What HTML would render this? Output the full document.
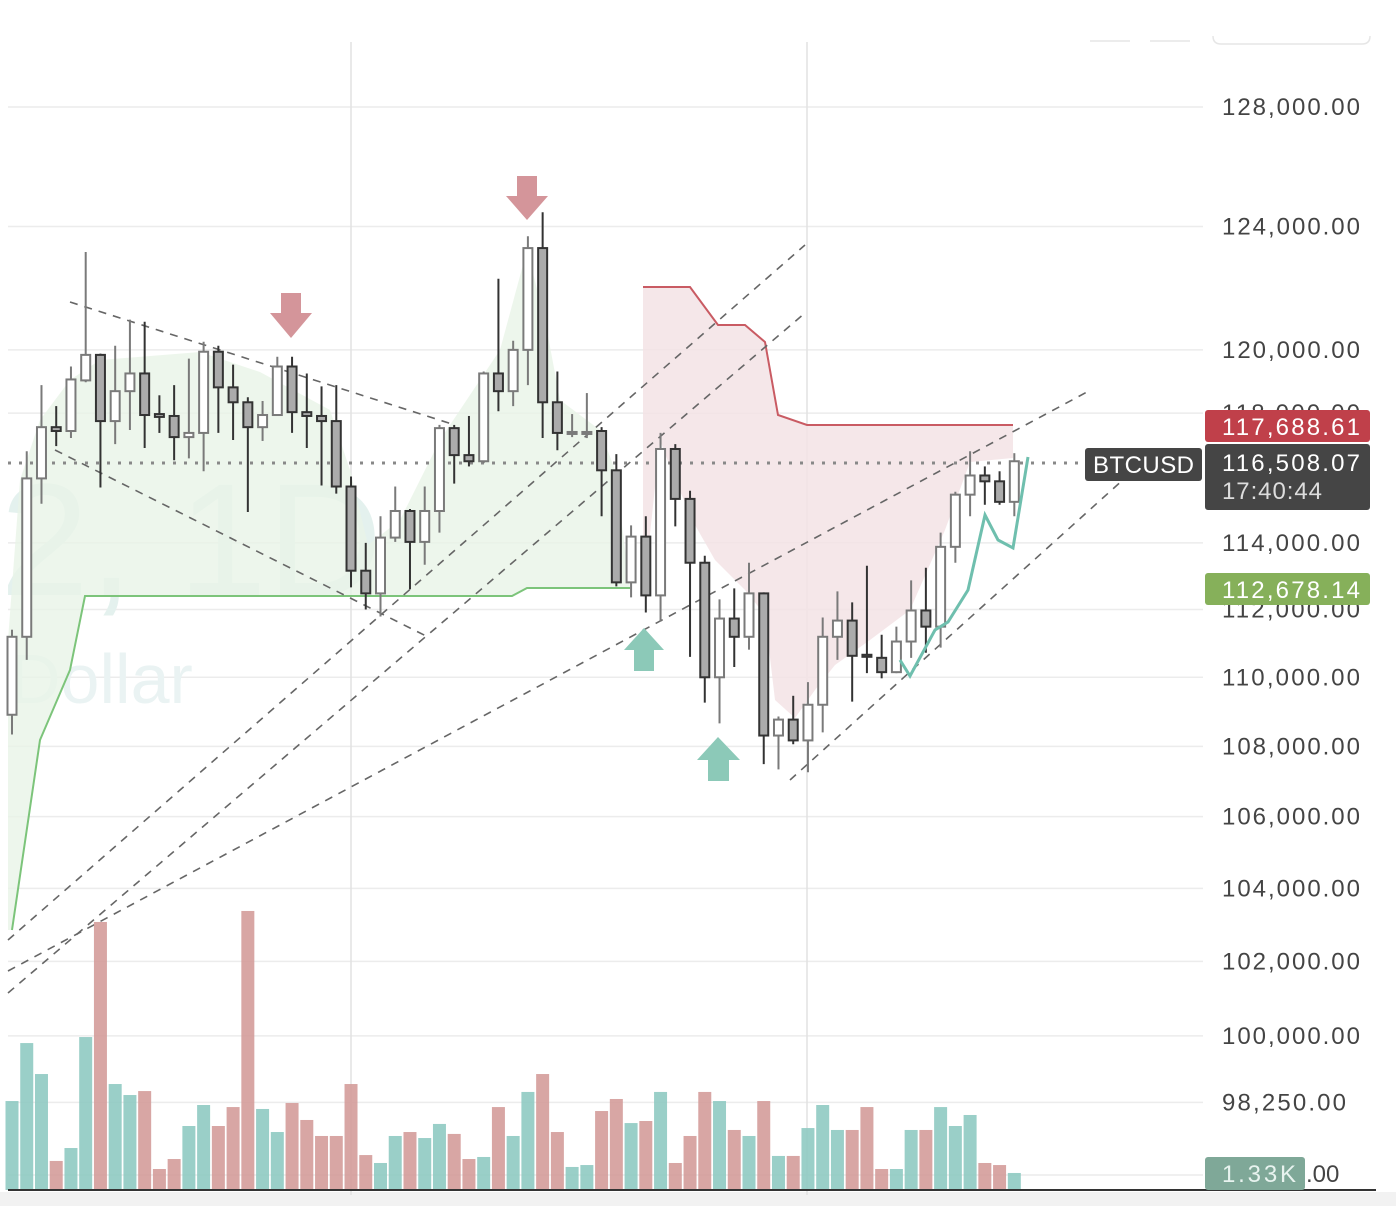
<!DOCTYPE html>
<html><head><meta charset="utf-8"><style>
html,body{margin:0;padding:0;background:#fff;}
svg{display:block;font-family:"Liberation Sans",sans-serif;}
</style></head><body>
<svg id="chart" width="1396" height="1206" viewBox="0 0 1396 1206" xmlns="http://www.w3.org/2000/svg">
<rect x="0" y="1192" width="1396" height="14" fill="#f2f2f2"/>
<g id="grid"></g>
<line x1="351" y1="42" x2="351" y2="1195" stroke="#e2e2e2" stroke-width="1.5"/>
<line x1="807" y1="42" x2="807" y2="1195" stroke="#e2e2e2" stroke-width="1.5"/>
<text x="0" y="595" font-size="160" fill="#e4f1ee">2, 1D</text>
<text x="10" y="703" font-size="70" fill="#eaf3f3">Dollar</text>
<polygon fill="#e9f4e7" fill-opacity="0.8" points="8,640 20,480 40,420 70,380 100,360 200,352 260,372 330,410 350,470 368,545 400,520 440,440 480,380 500,350 527,250 545,320 560,400 600,430 615,470 630,588 527,588 512,596 85,596 70,670 40,740 12,930 8,930"/>
<polyline fill="none" stroke="#7cc47a" stroke-width="2" points="12,930 40,740 70,670 85,596 512,596 527,588 630,588"/>
<polygon fill="#f3e3e5" fill-opacity="0.85" points="643,287 690,287 718,325 745,325 765,342 778,415 807,425 1013,425 1013,458 970,462 945,530 910,610 870,640 835,665 815,690 795,718 775,700 765,615 745,590 715,560 695,525 675,480 660,440 643,600"/>
<polyline fill="none" stroke="#c95b63" stroke-width="2" points="643,287 690,287 718,325 745,325 765,342 778,415 807,425 1013,425"/>
<g stroke="#666" stroke-width="1.6" stroke-dasharray="8,7" fill="none">
<line x1="70" y1="302" x2="455" y2="425"/>
<line x1="55" y1="450" x2="430" y2="638"/>
<line x1="8" y1="940" x2="805" y2="245"/>
<line x1="8" y1="993" x2="805" y2="313"/>
<line x1="8" y1="971" x2="1087" y2="392"/>
<line x1="790" y1="780" x2="1125" y2="478"/>
</g>
<line x1="8" y1="463" x2="1085" y2="463" stroke="#888" stroke-width="3" stroke-dasharray="3,8"/>
<g id="volume"></g>
<g id="candles"></g>
<polyline fill="none" stroke="#6fbfae" stroke-width="3" points="900,660 910,676 935,630 948,622 968,590 985,515 998,540 1013,548 1028,457"/>
<g fill="#d4959a"><rect x="281" y="293" width="20" height="21"/><polygon points="270,313 312,313 291,338"/></g>
<g fill="#d4959a"><rect x="517" y="176" width="20" height="21"/><polygon points="506,196 548,196 527,220"/></g>
<g fill="#8cc9b8"><polygon points="624,650 664,650 644,628"/><rect x="634" y="649" width="20" height="22"/></g>
<g fill="#8cc9b8"><polygon points="697,760 740,760 718,737"/><rect x="708" y="759" width="21" height="22"/></g>
<line x1="8" y1="1190" x2="1376" y2="1190" stroke="#333" stroke-width="2"/>
<g id="axis" font-size="24" fill="#444"></g>
<g fill="none" stroke="#e6e6e6" stroke-width="1.5">
<path d="M1090,41 L1130,41"/>
<path d="M1150,41 L1190,41"/>
<path d="M1213,36 Q1213,44 1221,44 L1362,44 Q1370,44 1370,36"/>
</g>
<g><rect x="1205" y="410" width="165" height="32" rx="3" fill="#c0404a"/><text x="1222" y="435" font-size="24" fill="#fff" textLength="138">117,688.61</text></g>
<g><rect x="1205" y="444" width="165" height="66" rx="3" fill="#454545"/><text x="1222" y="471" font-size="24" fill="#fff" textLength="138">116,508.07</text><text x="1222" y="499" font-size="24" fill="#ddd" textLength="100">17:40:44</text></g>
<g><rect x="1085" y="448" width="117" height="33" rx="3" fill="#454545"/><text x="1093" y="473" font-size="24" fill="#fff" textLength="101">BTCUSD</text></g>
<g><rect x="1205" y="573" width="165" height="32" rx="3" fill="#86b05a"/><text x="1222" y="598" font-size="24" fill="#fff" textLength="138">112,678.14</text></g>
<g><rect x="1205" y="1157" width="100" height="33" rx="3" fill="#7fa898"/><text x="1222" y="1182" font-size="24" fill="#e8f3ef" textLength="74">1.33K</text><text x="1306" y="1182" font-size="24" fill="#444">.00</text></g>
</svg>
<script>
// ---- data ----
const opens  = [108910,111190,115970,117560,117440,119030,119840,117750,118690,119250,117970,117910,117250,117380,119940,118810,118340,117560,117940,119470,118030,117910,117750,115720,113160,112480,114160,114970,114030,114970,117530,116690,116500,119250,118690,120000,123290,118340,117410,117410,117440,116220,112810,114190,112420,116880,115340,113400,110000,111730,111190,112480,108310,108770,108170,109200,111190,111670,110660,110570,110150,111050,111970,111490,113880,115470,116060,115880,115250];
const highs  = [111400,116810,118880,118220,119470,123160,119880,120130,120970,120900,118560,118880,119720,120260,120130,119530,118500,118380,119780,119780,119250,118840,118880,116030,114000,114810,115720,115030,115720,117630,117630,117910,119310,122290,120290,123680,124470,119310,117970,118630,117560,116720,114530,114810,117380,117030,115590,113610,112300,112630,113400,112510,108860,109460,109860,111760,112540,112210,113310,111250,111490,112870,113250,114310,115560,116810,116340,116190,116750];
const lows   = [108340,110510,115190,116970,117220,118970,115690,117030,117470,116910,117380,116530,116590,116190,117380,117160,114940,117130,117910,117380,116910,115750,115500,112660,112000,111790,114030,112600,113340,114310,115810,116340,116440,118060,118220,118880,117220,116840,117250,117220,114810,112690,112360,111910,111640,114500,110600,109260,108660,110300,110810,107490,107340,108060,107260,108400,110510,109290,110120,109970,110120,110570,110720,110870,113400,114810,115160,115160,114810];
const closes = [111190,115970,117560,117440,119060,119840,117750,118690,119250,117940,117880,117250,117380,119940,118810,118340,117560,117940,119470,118030,117910,117750,115720,113160,112480,114160,114970,114030,114970,117530,116690,116500,119250,118690,120000,123290,118340,117380,117410,117410,116220,112810,114190,112420,116880,115340,113400,110000,111730,111190,112480,108310,108770,108170,109200,111190,111670,110630,110600,110150,111050,111970,111490,113880,115470,116060,115880,115250,116500];
const volumes = [6.95,11.48,9.06,2.27,3.28,11.95,20.94,8.28,7.42,7.73,1.64,2.42,5.0,6.64,5.0,6.48,21.8,6.33,4.53,6.8,5.47,4.22,4.22,8.28,2.73,2.11,4.22,4.53,4.06,5.16,4.38,2.42,2.58,6.48,4.22,7.66,9.06,4.53,1.8,1.95,6.17,7.11,5.23,5.39,7.66,2.11,4.22,7.66,6.95,4.69,4.22,6.95,2.66,2.66,4.84,6.64,4.69,4.69,6.48,1.64,1.64,4.69,4.69,6.48,5.0,5.86,2.11,1.95,1.33];
const tickValues = [128000,124000,120000,118000,114000,112000,110000,108000,106000,104000,102000,100000,98250];
const tickLabels = ["128,000.00","124,000.00","120,000.00","118,000.00","114,000.00","112,000.00","110,000.00","108,000.00","106,000.00","104,000.00","102,000.00","100,000.00","98,250.00"];
// ---- scales ----
const NS="http://www.w3.org/2000/svg";
function yScale(p){return 107+(Math.log(128000)-Math.log(p))*3763;}
function xScale(i){return 12+i*14.74;}
function vScale(v){return 1190-v*12.8;}
function mk(tag,attrs,parent){const e=document.createElementNS(NS,tag);for(const k in attrs)e.setAttribute(k,attrs[k]);parent.appendChild(e);return e;}
const grid=document.getElementById('grid'),axis=document.getElementById('axis');
tickValues.forEach((v,i)=>{
  const y=yScale(v);
  const gl=mk('line',{x1:8,x2:1203,y1:y,y2:y,stroke:'#ececec','stroke-width':1.5},grid);
  
  
  const t=mk('text',{x:1222,y:y+8,textLength:tickLabels[i].length>9?138:124},axis);
  t.textContent=tickLabels[i];
  
  
});
const extra=mk('line',{x1:8,x2:1203,y1:1175,y2:1175,stroke:'#ececec','stroke-width':1.5},grid);


const vg=document.getElementById('volume'),cg=document.getElementById('candles');
for(let i=0;i<opens.length;i++){
  const x=xScale(i),up=closes[i]>=opens[i];
  const vb=mk('rect',{x:x-6.5,y:vScale(volumes[i]),width:13,height:1190-vScale(volumes[i]),fill:up?'#8fcac2':'#d49c9a','fill-opacity':0.9},vg);
  
  
  const g=mk('g',{},cg);
  
  
  const col=up?'#7a7a7a':'#333';
  mk('line',{x1:x,x2:x,y1:yScale(highs[i]),y2:yScale(lows[i]),stroke:col,'stroke-width':2},g);
  const top=yScale(Math.max(opens[i],closes[i])),bot=yScale(Math.min(opens[i],closes[i]));
  mk('rect',{x:x-4.5,y:top,width:9,height:Math.max(2,bot-top),fill:up?'#fff':'#ababab',stroke:col,'stroke-width':2},g);
}
</script>
</body></html>
